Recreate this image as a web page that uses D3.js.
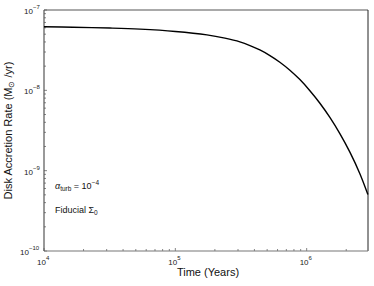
<!DOCTYPE html>
<html>
<head>
<meta charset="utf-8">
<script src="https://cdn.jsdelivr.net/npm/d3@7"></script>
<style>
  body { margin: 0; background: #fff; }
  svg { display: block; font-family: "Liberation Sans", Arial, sans-serif; }
</style>
</head>
<body>
<div id="chart"></div>
<script>
// Disk accretion rate vs time, log-log, single curve.

const timeYears = [1e4, 1.66e4, 3.18e4, 5.38e4, 1e5, 1.74e5, 2.385e5, 3.1e5, 3.7e5, 4.4e5,
  5.25e5, 6.25e5, 7.45e5, 8.88e5, 1.058e6, 1.261e6, 1.502e6, 1.789e6, 2.133e6, 2.541e6, 2.924e6];
const accRate = [6.18e-8, 6.1e-8, 5.96e-8, 5.78e-8, 5.41e-8, 4.9e-8, 4.46e-8, 4.01e-8, 3.61e-8, 3.18e-8,
  2.71e-8, 2.24e-8, 1.78e-8, 1.36e-8, 9.89e-9, 6.91e-9, 4.6e-9, 2.89e-9, 1.7e-9, 9.18e-10, 5.05e-10];
const xTicks = [1e4, 1e5, 1e6];
const xTickExp = ["4", "5", "6"];
const yTicks = [1e-7, 1e-8, 1e-9, 1e-10];
const yTickExp = ["\u22127", "\u22128", "\u22129", "\u221210"];

const width = 374, height = 286;
const margin = { top: 10, right: 6, bottom: 35, left: 44 };

const svg = d3.select("#chart").append("svg")
  .attr("width", width).attr("height", height);

const x = d3.scaleLog().domain([1e4, 2.93e6]).range([margin.left, width - margin.right]);
const y = d3.scaleLog().domain([1e-10, 1e-7]).range([height - margin.bottom, margin.top]);

const x0 = margin.left, x1 = width - margin.right;
const y0 = height - margin.bottom, y1 = margin.top;

// minor + major ticks, pointing inward
function logTicks(lo, hi) {
  const out = [];
  for (let e = Math.floor(Math.log10(lo)); e <= Math.ceil(Math.log10(hi)); e++) {
    for (let m = 1; m <= 9; m++) {
      const v = m * Math.pow(10, e);
      if (v >= lo * 0.999 && v <= hi * 1.001) out.push({ v, major: m === 1 });
    }
  }
  return out;
}

const tickCol = "#666";
const gx = svg.append("g");
gx.selectAll("line").data(logTicks(1e4, 2.93e6)).join("line")
  .attr("x1", d => x(d.v)).attr("x2", d => x(d.v))
  .attr("y1", y0).attr("y2", d => y0 - (d.major ? 3 : 2))
  .attr("stroke", tickCol).attr("stroke-width", 0.8);

const gy = svg.append("g");
gy.selectAll("line").data(logTicks(1e-10, 1e-7)).join("line")
  .attr("y1", d => y(d.v)).attr("y2", d => y(d.v))
  .attr("x1", x0).attr("x2", d => x0 + (d.major ? 3 : 2))
  .attr("stroke", tickCol).attr("stroke-width", 0.8);

// frame
svg.append("line").attr("x1", x0).attr("x2", x1).attr("y1", y1).attr("y2", y1)
  .attr("stroke", "#555").attr("stroke-width", 1);
svg.append("line").attr("x1", x1).attr("x2", x1).attr("y1", y1).attr("y2", y0)
  .attr("stroke", "#222").attr("stroke-width", 1);
svg.append("line").attr("x1", x0).attr("x2", x1).attr("y1", y0).attr("y2", y0)
  .attr("stroke", "#777").attr("stroke-width", 1.2);
svg.append("line").attr("x1", x0).attr("x2", x0).attr("y1", y1).attr("y2", y0)
  .attr("stroke", "#555").attr("stroke-width", 1.2);

// tick labels
const xl = svg.append("g").selectAll("text").data(xTicks).join("text")
  .attr("x", d => x(d) - 7).attr("y", height - margin.bottom + 14)
  .attr("font-size", 8).attr("fill", "#222");
xl.append("tspan").text("10");
xl.append("tspan").attr("dy", -5).attr("font-size", 6).text((d, i) => xTickExp[i]);

const yl = svg.append("g").selectAll("text").data(yTicks).join("text")
  .attr("x", d => 20 + (d === 1e-10 ? 0 : 4)).attr("y", d => y(d) + 4)
  .attr("font-size", 8).attr("fill", "#222");
yl.append("tspan").text("10");
yl.append("tspan").attr("dy", -5).attr("font-size", 6).text((d, i) => yTickExp[i]);

// curve
const pts = timeYears.map((t, i) => [t, accRate[i]]);
svg.append("path").datum(pts)
  .attr("fill", "none").attr("stroke", "#000").attr("stroke-width", 1.4)
  .attr("d", d3.line().x(d => x(d[0])).y(d => y(d[1])).curve(d3.curveCatmullRom));

// axis titles
svg.append("text").attr("x", (x0 + x1) / 2 + 2).attr("y", height - 10)
  .attr("text-anchor", "middle").attr("font-size", 11).attr("fill", "#111")
  .text("Time (Years)");

const yt = svg.append("text").attr("transform", `translate(12,${(y0 + y1) / 2}) rotate(-90)`)
  .attr("text-anchor", "middle").attr("font-size", 11).attr("fill", "#111");
yt.append("tspan").text("Disk Accretion Rate (M");
yt.append("tspan").attr("font-size", 8).attr("dy", 2).text("\u2299");
yt.append("tspan").attr("dy", -2).text(" /yr)");

// annotations
const a1 = svg.append("text").attr("x", 55).attr("y", 189).attr("font-size", 9).attr("fill", "#111");
a1.append("tspan").attr("font-style", "italic").text("\u03b1");
a1.append("tspan").attr("font-size", 6.5).attr("dy", 2).text("turb");
a1.append("tspan").attr("dy", -2).text(" = 10");
a1.append("tspan").attr("font-size", 6.5).attr("dy", -4).text("\u22124");

const a2 = svg.append("text").attr("x", 55).attr("y", 213).attr("font-size", 9).attr("fill", "#111");
a2.append("tspan").text("Fiducial \u03a3");
a2.append("tspan").attr("font-size", 6.5).attr("dy", 2).text("0");
</script>
</body>
</html>
